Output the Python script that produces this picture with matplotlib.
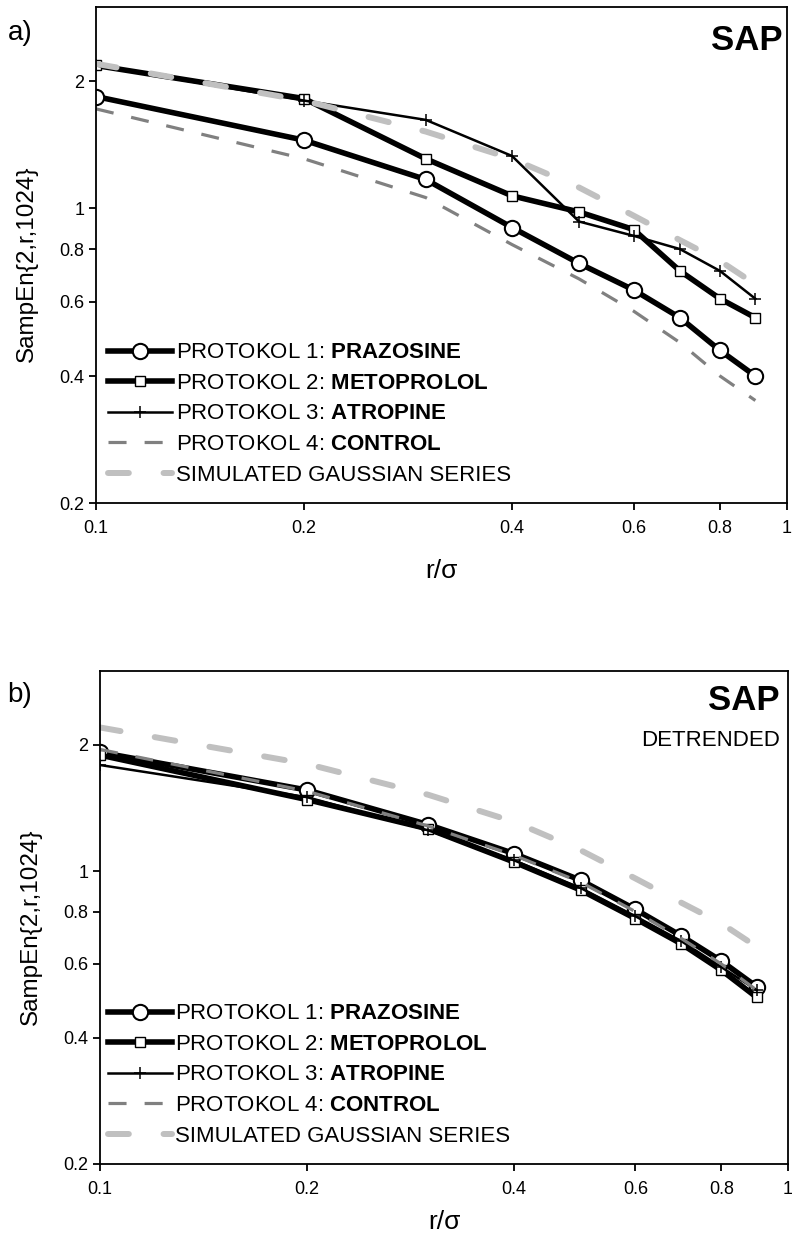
import numpy as np
import matplotlib
matplotlib.use("Agg")
import matplotlib.pyplot as plt
from matplotlib.ticker import FixedLocator, FixedFormatter, NullLocator

plt.rcParams['font.family'] = ['Liberation Sans', 'DejaVu Sans']
plt.rcParams['mathtext.fontset'] = 'custom'
plt.rcParams['mathtext.rm'] = 'Liberation Sans'
plt.rcParams['mathtext.bf'] = 'Liberation Sans:bold'
plt.rcParams['lines.scale_dashes'] = False

# r / sigma values
r = [0.1, 0.2, 0.3, 0.4, 0.5, 0.6, 0.7, 0.8, 0.9]

# panel a) raw SAP
a_prazosine = [1.84, 1.45, 1.17, 0.90, 0.74, 0.64, 0.55, 0.46, 0.40]
a_metoprolol = [2.18, 1.82, 1.31, 1.07, 0.98, 0.89, 0.71, 0.61, 0.55]
a_atropine = [2.18, 1.80, 1.62, 1.33, 0.93, 0.86, 0.80, 0.71, 0.61]
a_control = [1.72, 1.31, 1.06, 0.82, 0.68, 0.57, 0.48, 0.40, 0.35]

# panel b) detrended SAP
b_prazosine = [1.92, 1.56, 1.29, 1.10, 0.95, 0.81, 0.70, 0.61, 0.53]
b_metoprolol = [1.89, 1.48, 1.26, 1.05, 0.90, 0.77, 0.67, 0.58, 0.50]
b_atropine = [1.79, 1.50, 1.25, 1.06, 0.91, 0.78, 0.68, 0.59, 0.52]
b_control = [1.95, 1.55, 1.28, 1.09, 0.94, 0.80, 0.69, 0.60, 0.52]

# simulated gaussian series (same in both panels)
gaussian = [2.20, 1.80, 1.52, 1.31, 1.12, 0.96, 0.84, 0.75, 0.66]

labels = ["PROTOKOL 1: $\\bf{PRAZOSINE}$",
          "PROTOKOL 2: $\\bf{METOPROLOL}$",
          "PROTOKOL 3: $\\bf{ATROPINE}$",
          "PROTOKOL 4: $\\bf{CONTROL}$",
          "SIMULATED GAUSSIAN SERIES"]

xticks = [0.1, 0.2, 0.4, 0.6, 0.8, 1]
xtick_labels = ["0.1", "0.2", "0.4", "0.6", "0.8", "1"]
yticks = [0.2, 0.4, 0.6, 0.8, 1, 2]
ytick_labels = ["0.2", "0.4", "0.6", "0.8", "1", "2"]

fig = plt.figure(figsize=(7.92, 12.41), dpi=100)
ax_a = fig.add_axes([96 / 792, 1 - 503 / 1241, 691 / 792, 496 / 1241])
ax_b = fig.add_axes([100 / 792, 1 - 1164 / 1241, 688 / 792, 493 / 1241])


def draw(ax, pr, me, at, co, legend_pos, xlabel_pad, detrended):
    ax.plot(r, pr, color='black', lw=4.0, marker='o', ms=11, mfc='white',
            mec='black', mew=1.5, label=labels[0])
    ax.plot(r, me, color='black', lw=4.0, marker='s', ms=7, mfc='white',
            mec='black', mew=1.0, label=labels[1])
    ax.plot(r, at, color='black', lw=1.8, marker='+', ms=8, mec='black',
            mew=1.1, label=labels[2])
    ax.plot(r, co, color='#808080', lw=2.3, dashes=(13, 13),
            label=labels[3])
    ax.plot(r, gaussian, color='#c0c0c0', lw=4.3, dashes=(15, 25),
            dash_capstyle='round', label=labels[4])

    ax.set_xscale('log')
    ax.set_yscale('log')
    ax.set_xlim(0.1, 1)
    ax.set_ylim(0.2, 3)
    ax.xaxis.set_major_locator(FixedLocator(xticks))
    ax.xaxis.set_major_formatter(FixedFormatter(xtick_labels))
    ax.yaxis.set_major_locator(FixedLocator(yticks))
    ax.yaxis.set_major_formatter(FixedFormatter(ytick_labels))
    ax.xaxis.set_minor_locator(NullLocator())
    ax.yaxis.set_minor_locator(NullLocator())
    ax.tick_params(direction='out', length=5, width=1.3, labelsize=13,
                   top=False, right=False)
    ax.tick_params(axis='x', pad=7)
    for s in ax.spines.values():
        s.set_linewidth(1.3)

    ax.set_xlabel("r/σ", fontsize=19, labelpad=xlabel_pad)
    ax.set_ylabel("SampEn{2,r,1024}", fontsize=17.5)
    ax.yaxis.set_label_coords(-0.084, 0.482)

    ax.legend(loc='upper left', bbox_to_anchor=legend_pos,
              frameon=False, fontsize=16, handlelength=2.9,
              handletextpad=0.15, labelspacing=0.43, borderpad=0,
              borderaxespad=0, numpoints=1)

    if detrended:
        ax.text(0.988, 0.941, "SAP", transform=ax.transAxes, ha='right',
                va='center', fontsize=25, fontweight='bold')
        ax.text(0.988, 0.860, "DETRENDED", transform=ax.transAxes,
                ha='right', va='center', fontsize=16)
    else:
        ax.text(0.993, 0.933, "SAP", transform=ax.transAxes, ha='right',
                va='center', fontsize=25, fontweight='bold')


draw(ax_a, a_prazosine, a_metoprolol, a_atropine, a_control,
     (0.017, 0.324), 16, False)
draw(ax_b, b_prazosine, b_metoprolol, b_atropine, b_control,
     (0.011, 0.326), 9, True)

fig.text(20 / 792, 1 - 33 / 1241, "a)", fontsize=20, ha='center', va='center')
fig.text(20 / 792, 1 - 695 / 1241, "b)", fontsize=20, ha='center', va='center')

fig.savefig("out.png", dpi=100)
